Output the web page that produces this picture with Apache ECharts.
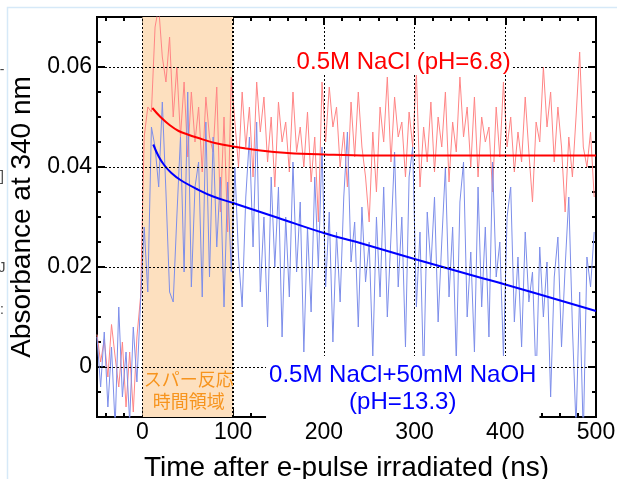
<!DOCTYPE html>
<html>
<head>
<meta charset="utf-8">
<script src="https://cdn.jsdelivr.net/npm/echarts@6/dist/echarts.min.js"></script>
<style>
  html, body { margin: 0; padding: 0; background: #fff; }
  #chart { width: 617px; height: 479px; }
</style>
</head>
<body>
<div id="chart"></div>
<script>
// axis ranges and tick positions
const xRange = [-50, 500];
const yRange = [-0.01, 0.07];
const xMajor = [0, 100, 200, 300, 400, 500];
const xMinor = [-40, -20, 20, 40, 60, 80, 120, 140, 160, 180, 220, 240, 260, 280, 320, 340, 360, 380, 420, 440, 460, 480];
const yMajor = [0, 0.02, 0.04, 0.06];
const yMinor = [-0.005, 0.005, 0.01, 0.015, 0.025, 0.03, 0.035, 0.045, 0.05, 0.055, 0.065];
const xGrid = [0, 100, 200, 300, 400];
const yGrid = [0, 0.02, 0.04, 0.06];
const pulseWindow = [0, 100];

// raw transient absorption (sampled every 4 ns starting at -50 ns)
const noiseStart = -50;
const noiseStep = 4;
const redNoise = [
  0.0065, 0.001, 0.0055, -0.002, 0.0085, 0.002, -0.004, 0.005, -0.008, 0.003, -0.009, 0.006, 0.014,
  0.046, 0.052, 0.051, 0.068, 0.072, 0.062, 0.057, 0.066, 0.050, 0.060, 0.046, 0.057, 0.042,
  0.055, 0.045, 0.052, 0.039, 0.054, 0.046, 0.043, 0.056, 0.031, 0.050, 0.027, 0.058,
  0.049, 0.040, 0.055, 0.044, 0.052, 0.038, 0.057, 0.047, 0.054, 0.041,
  0.050, 0.036, 0.053, 0.045, 0.049, 0.039, 0.055, 0.043, 0.048, 0.040,
  0.051, 0.037, 0.046, 0.029, 0.057, 0.045, 0.056, 0.048, 0.052, 0.040,
  0.047, 0.036, 0.053, 0.042, 0.055, 0.044, 0.038, 0.029, 0.047, 0.035,
  0.052, 0.045, 0.058, 0.041, 0.054, 0.046, 0.049, 0.038, 0.051, 0.044,
  0.059, 0.036, 0.048, 0.041, 0.053, 0.039, 0.050, 0.044, 0.055, 0.037,
  0.049, 0.043, 0.058, 0.046, 0.052, 0.040, 0.054, 0.038, 0.050, 0.045,
  0.048, 0.035, 0.052, 0.042, 0.057, 0.044, 0.050, 0.039, 0.047, 0.041,
  0.054, 0.043, 0.033, 0.049, 0.045, 0.060, 0.048, 0.055, 0.041, 0.052,
  0.044, 0.031, 0.046, 0.038, 0.050, 0.063, 0.044, 0.040, 0.047, 0.034
];
const blueNoise = [
  0.006, -0.004, 0.007, -0.008, 0.004, -0.012, 0.012, -0.006, 0.003, -0.011, 0.008, -0.003, 0.013,
  0.028, 0.015, 0.048, 0.044, 0.036, 0.053, 0.035, 0.015, 0.013, 0.030, 0.046, 0.019, 0.055,
  0.016, 0.036, 0.041, 0.014, 0.049, 0.018, 0.046, 0.024, 0.038, 0.012, 0.037, 0.019,
  0.040, 0.022, 0.012, 0.034, 0.046, 0.024, 0.049, 0.015, 0.030, 0.008,
  0.038, 0.020, 0.036, 0.006, 0.030, 0.014, 0.041, 0.019, 0.033, 0.003,
  0.028, 0.011, 0.038, 0.020, 0.044, 0.016, 0.031, 0.005, 0.027, 0.013,
  0.034, 0.047, 0.021, 0.029, 0.008, 0.032, 0.017, 0.025, 0.002, 0.030,
  0.014, 0.036, 0.010, 0.026, 0.043, 0.016, 0.030, 0.004, 0.038, 0.044,
  0.012, 0.027, -0.002, 0.031, 0.020, 0.034, 0.009, 0.025, 0.040, 0.014,
  0.028, 0.001, 0.033, 0.041, 0.010, 0.023, 0.003, 0.036, 0.012, 0.028,
  0.006, 0.041, 0.018, 0.025, 0.002, 0.030, 0.036, 0.009, 0.022, 0.004,
  0.027, 0.013, 0.019, -0.003, 0.024, 0.010, 0.021, -0.006, 0.018, 0.026,
  0.004, 0.020, 0.034, 0.008, -0.012, 0.015, -0.014, 0.022, 0.016, 0.027
];

// fitted decay curves
const redFitT = [11, 20, 30, 40, 50, 60, 80, 100, 130, 160, 200, 250, 350, 500];
const redFitV = [0.0518, 0.0500, 0.0484, 0.0472, 0.0465, 0.0459, 0.0448, 0.0441, 0.0433, 0.0428, 0.0425, 0.0423, 0.0423, 0.0423];
const blueFitT = [12, 18, 24, 32, 42, 60, 78, 100, 150, 200, 240, 300, 370, 400, 500];
const blueFitV = [0.0445, 0.0421, 0.0404, 0.0388, 0.0374, 0.0356, 0.0341, 0.0328, 0.0298, 0.0268, 0.0248, 0.0216, 0.0180, 0.0165, 0.0112];

// annotation anchors in data coordinates
const redLabelAt = [288, 0.061];
const blueLabelAt = [287, -0.0044];
const spurLabelAt = [51, -0.0046];

// clipped glyph fragments at the far left edge of the screenshot
const edgeGlyphs = ['-', ']', 'J', ':'];
const edgeGlyphY = [70, 177, 268, 310];

const FONT = 'Liberation Sans, Arial, sans-serif';
const chart = echarts.init(document.getElementById('chart'), null, { renderer: 'canvas' });

const noiseT = redNoise.map((_, i) => noiseStart + i * noiseStep);
const pairs = (xs, ys) => xs.map((x, i) => [x, ys[i]]);

function xAxisDef(pos, ticks, len, labels) {
  return {
    type: 'value', position: pos, min: xRange[0], max: xRange[1],
    axisLine: { show: true, onZero: false, lineStyle: { color: '#000', width: 2 } },
    axisTick: { show: true, inside: true, length: len, customValues: ticks, lineStyle: { color: '#000', width: 2 } },
    axisLabel: labels
      ? { show: true, customValues: xMajor, color: '#000', fontSize: 23, fontFamily: FONT, margin: 4 }
      : { show: false },
    splitLine: { show: false },
    name: labels ? 'Time after e-pulse irradiated (ns)' : '',
    nameLocation: 'middle', nameGap: 37,
    nameTextStyle: { color: '#000', fontSize: 28, fontFamily: FONT }
  };
}
function yAxisDef(pos, ticks, len, labels) {
  return {
    type: 'value', position: pos, min: yRange[0], max: yRange[1],
    axisLine: { show: true, onZero: false, lineStyle: { color: '#000', width: 2 } },
    axisTick: { show: true, inside: true, length: len, customValues: ticks, lineStyle: { color: '#000', width: 2 } },
    axisLabel: labels
      ? { show: true, customValues: yMajor, color: '#000', fontSize: 23, fontFamily: FONT, margin: 5 }
      : { show: false },
    splitLine: { show: false },
    name: labels ? 'Absorbance at 340 nm' : '',
    nameLocation: 'middle', nameGap: 51,
    nameTextStyle: { color: '#000', fontSize: 28, fontFamily: FONT }
  };
}

const gridMarks = xGrid.map(v => ({ xAxis: v, lineStyle: { width: v === 100 ? 2 : 1 } }))
  .concat(yGrid.map(v => ({ yAxis: v })));

chart.setOption({
  animation: false,
  grid: { left: 97, top: 17, width: 499, height: 400, containLabel: false, outerBoundsMode: 'none' },
  xAxis: [
    xAxisDef('bottom', xMajor, 8, true),
    xAxisDef('bottom', xMinor, 4, false),
    xAxisDef('top', xMajor, 8, false),
    xAxisDef('top', xMinor, 4, false)
  ],
  yAxis: [
    yAxisDef('left', yMajor, 8, true),
    yAxisDef('left', yMinor, 4, false),
    yAxisDef('right', yMajor, 8, false),
    yAxisDef('right', yMinor, 4, false)
  ],
  series: [
    {
      type: 'line', data: [], z: 1, silent: true,
      markArea: {
        silent: true,
        itemStyle: { color: '#FDE0BF' },
        data: [[{ xAxis: pulseWindow[0] }, { xAxis: pulseWindow[1] }]]
      }
    },
    {
      type: 'line', data: [], z: 2, silent: true,
      markLine: {
        silent: true, symbol: 'none', label: { show: false },
        lineStyle: { color: '#000', type: [2, 2], width: 1 },
        data: gridMarks
      }
    },
    {
      name: 'NaCl raw', type: 'line', z: 3, showSymbol: false,
      data: pairs(noiseT, redNoise),
      lineStyle: { color: '#FF8585', width: 1 }
    },
    {
      name: 'NaOH raw', type: 'line', z: 3, showSymbol: false,
      data: pairs(noiseT, blueNoise),
      lineStyle: { color: '#7D8EEA', width: 1 }
    },
    {
      name: 'NaCl fit', type: 'line', z: 4, showSymbol: false, smooth: 0.4,
      data: pairs(redFitT, redFitV),
      lineStyle: { color: '#FF0000', width: 2 }
    },
    {
      name: 'NaOH fit', type: 'line', z: 4, showSymbol: false, smooth: 0.4,
      data: pairs(blueFitT, blueFitV),
      lineStyle: { color: '#0000FF', width: 2 }
    }
  ]
});

const px = p => chart.convertToPixel({ xAxisIndex: 0, yAxisIndex: 0 }, p);
const rP = px(redLabelAt), bP = px(blueLabelAt), sP = px(spurLabelAt);

chart.setOption({
  graphic: [
    {
      type: 'rect', silent: true, z: 0,
      shape: { x: 7.5, y: 7.5, width: 700, height: 600 },
      style: { fill: 'none', stroke: '#D6E9F8', lineWidth: 1.5 }
    },
    ...edgeGlyphs.map((g, i) => ({
      type: 'text', silent: true, z: 0,
      style: { text: g, x: 2, y: edgeGlyphY[i], align: 'center', verticalAlign: 'middle', fill: '#444', fontSize: 14, fontFamily: FONT }
    })),
    {
      type: 'text', z: 50, silent: true,
      style: {
        text: '0.5M NaCl (pH=6.8)', x: rP[0], y: rP[1], align: 'center', verticalAlign: 'middle',
        fill: '#FF0000', fontSize: 24, fontFamily: FONT, backgroundColor: '#fff', padding: [1, 2, 1, 2]
      }
    },
    {
      type: 'text', z: 50, silent: true,
      style: {
        text: '0.5M NaCl+50mM NaOH\n(pH=13.3)', x: bP[0], y: bP[1], align: 'center', verticalAlign: 'middle',
        fill: '#0000FF', fontSize: 24, lineHeight: 27, fontFamily: FONT, backgroundColor: '#fff', padding: [6, 3, 6, 3]
      }
    },
    {
      type: 'text', z: 50, silent: true,
      style: {
        text: 'スパー反応\n時間領域', x: sP[0], y: sP[1], align: 'center', verticalAlign: 'middle',
        fill: '#F7941D', fontSize: 18, lineHeight: 22, fontFamily: 'Noto Sans CJK JP'
      }
    }
  ]
});
</script>
</body>
</html>
